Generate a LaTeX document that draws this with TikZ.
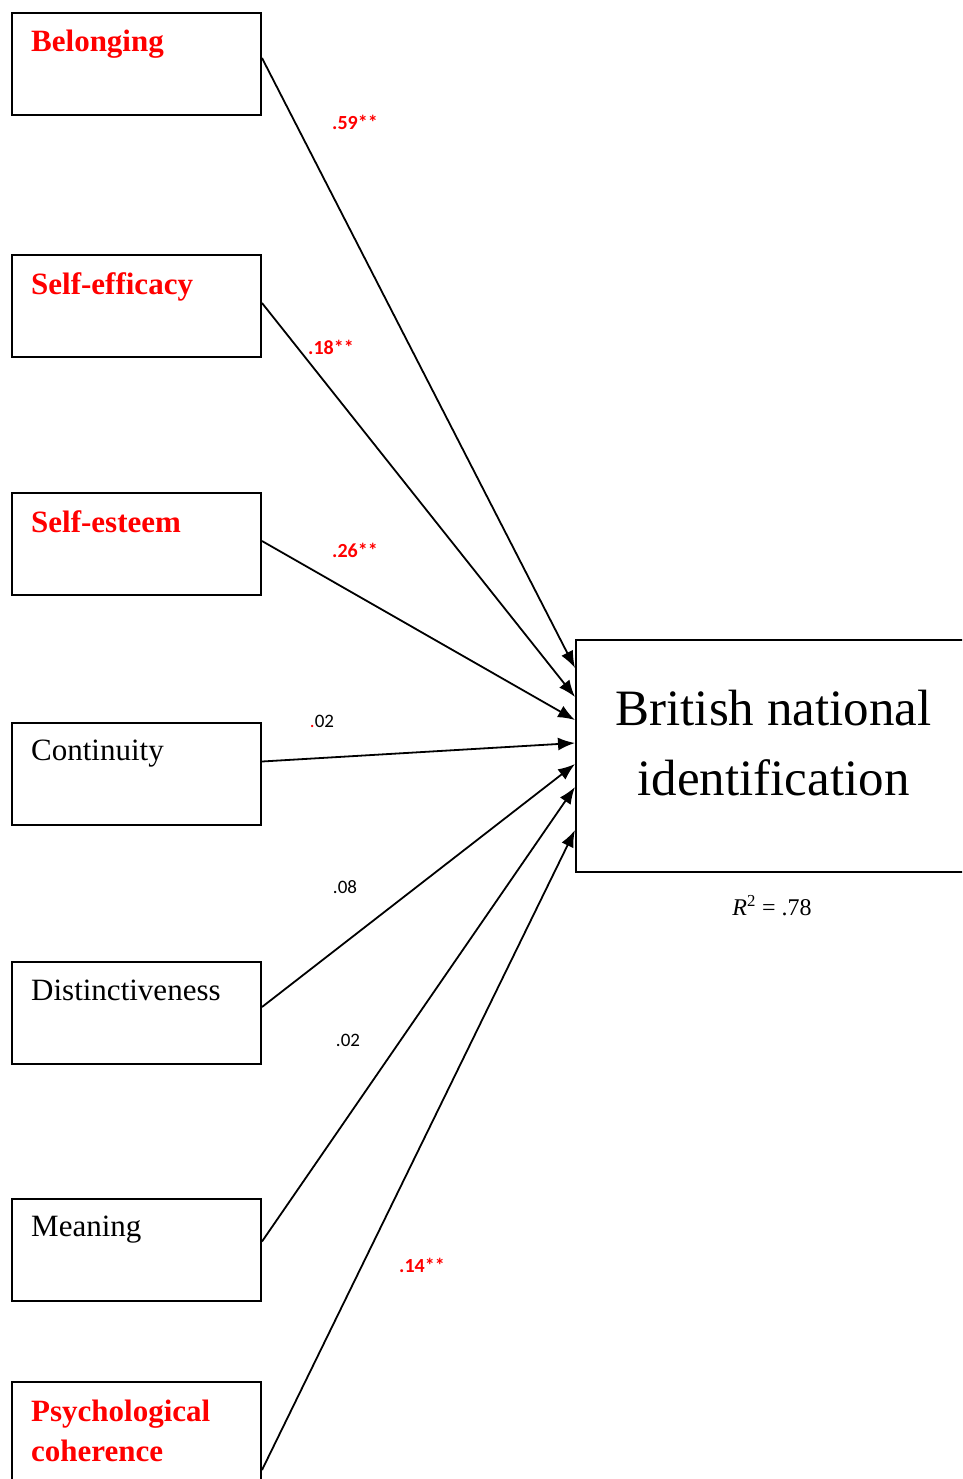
\documentclass[tikz,border=0pt]{standalone}
\usepackage{fontspec}
\setmainfont{Liberation Serif}
\newfontfamily\calibri{Carlito}
\usetikzlibrary{arrows.meta}

\begin{document}
\begin{tikzpicture}[x=1pt,y=-1pt,
    varbox/.style={draw,line width=2pt,minimum width=249pt,minimum height=102pt,inner sep=0pt},
    varname/.style={anchor=base west,inner sep=0pt,font=\fontsize{31}{40}\selectfont},
    sig/.style={text=red,inner sep=0pt,font=\calibri\bfseries\fontsize{20}{22}\selectfont},
    nonsig/.style={inner sep=0pt,font=\calibri\fontsize{19}{22}\selectfont},
    link/.style={line width=1.8pt,-{Latex[length=17pt,width=13pt]}}]
                \clip (0,0) rectangle (962,1479);
                % predictors
                \node [varbox] (bel) at (136.5,64) {};
                \node [varbox] (eff) at (136.5,306) {};
                \node [varbox] (est) at (136.5,544) {};
                \node [varbox] (cont) at (136.5,773.5) {};
                \node [varbox] (dist) at (136.5,1013) {};
                \node [varbox] (mean) at (136.5,1249.5) {};
                \node [varbox] (coh) at (136.5,1433) {};
                \node [varname,text=red,font=\bfseries\fontsize{31}{40}\selectfont] at ([xshift=20pt,yshift=-40pt]bel.north west) {Belonging};
                \node [varname,text=red,font=\bfseries\fontsize{31}{40}\selectfont] at ([xshift=20pt,yshift=-40pt]eff.north west) {Self-efficacy};
                \node [varname,text=red,font=\bfseries\fontsize{31}{40}\selectfont] at ([xshift=20pt,yshift=-40pt]est.north west) {Self-esteem};
                \node [varname] at ([xshift=20pt,yshift=-39pt]cont.north west) {Continuity};
                \node [varname] at ([xshift=20pt,yshift=-39pt]dist.north west) {Distinctiveness};
                \node [varname] at ([xshift=20pt,yshift=-39pt]mean.north west) {Meaning};
                \node [varname,text=red,align=left,font=\bfseries\fontsize{31}{40}\selectfont] at ([xshift=20pt,yshift=-80pt]coh.north west) {Psychological\\coherence};
                % outcome
                \node [draw,line width=2pt,minimum width=395pt,minimum height=232pt] (brit) at (773.5,756) {};
                \node [inner sep=0pt,align=center,font=\fontsize{51}{70}\selectfont] at (773.5,743) {British national\\identification};
                \node [inner sep=0pt,font=\fontsize{24}{28}\selectfont] (rsq) at (772,906) {\textit{R}\textsuperscript{2} = .78};
                % paths
                \draw [link] ([yshift=6pt]bel.east) -- ([yshift=88pt]brit.west);
                \draw [link] ([yshift=3pt]eff.east) -- ([yshift=59pt]brit.west);
                \draw [link] ([yshift=3pt]est.east) -- ([yshift=36pt]brit.west);
                \draw [link] ([yshift=12pt]cont.east) -- ([yshift=13pt]brit.west);
                \draw [link] ([yshift=6pt]dist.east) -- ([yshift=-8pt]brit.west);
                \draw [link] ([yshift=8pt]mean.east) -- ([yshift=-31pt]brit.west);
                \draw [link] ([yshift=-37pt]coh.east) -- ([yshift=-74pt]brit.west);
                % coefficients
                \node [sig] at (355,122) {.59**};
                \node [sig] at (331,347) {.18**};
                \node [sig] at (355,550) {.26**};
                \node [nonsig] at (322,721) {{\color{red}.}02};
                \node [nonsig] at (345,887) {.08};
                \node [nonsig] at (348,1040) {.02};
                \node [sig] at (422,1265) {.14**};
            \end{tikzpicture}
\end{document}
